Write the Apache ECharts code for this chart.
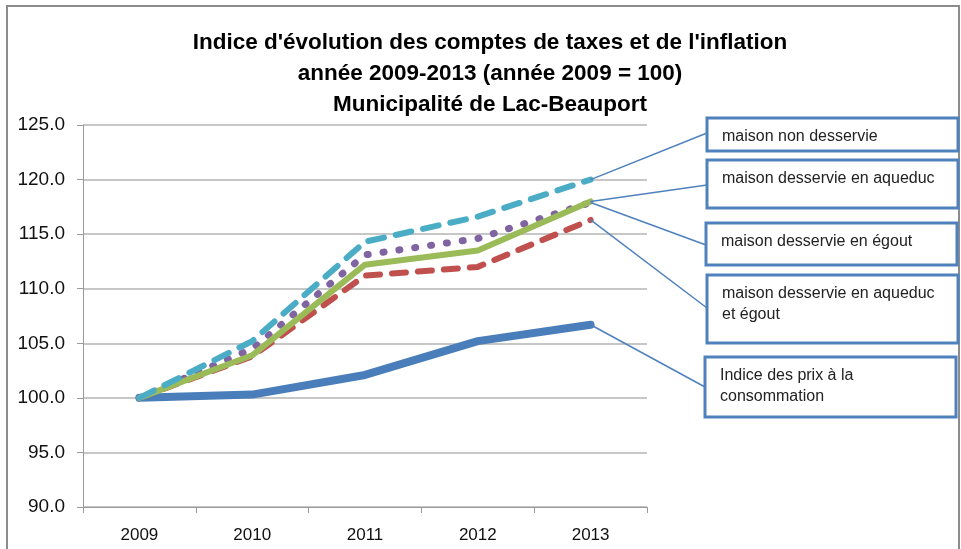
<!DOCTYPE html>
<html>
<head>
<meta charset="utf-8">
<script src="https://cdn.jsdelivr.net/npm/echarts@6/dist/echarts.min.js"></script>
<style>
	html, body { margin: 0; padding: 0; background: #fff; }
	#chart { width: 961px; height: 549px; }
</style>
</head>
<body>
<div id="chart"></div>
<script>
// categories
var years = ['2009', '2010', '2011', '2012', '2013'];

// séries (indice, 2009 = 100)
var nonDesservie = [100, 105.2, 114.3, 116.6, 120.0];
var aqueduc = [100, 104.5, 113.1, 114.6, 117.9];
var egout = [100, 103.8, 111.2, 112.0, 116.3];
var aqueducEgout = [100, 103.9, 112.2, 113.5, 118.0];
var ipc = [100, 100.3, 102.1, 105.2, 106.7];

// textes des encadrés
var boxLabels = [
	'maison non desservie',
	'maison desservie en aqueduc',
	'maison desservie en égout',
	'maison desservie en aqueduc\net égout',
	'Indice des prix à la\nconsommation'
];

var titleText = "Indice d'évolution des comptes de taxes et de l'inflation\nannée 2009-2013 (année 2009 = 100)\nMunicipalité de Lac-Beauport";

var font = '"Liberation Sans", Arial, sans-serif';
var boxColor = '#4f81bd';

var myChart = echarts.init(document.getElementById('chart'));

function lineSeries(name, data, color, width, dash, z) {
	return {
		name: name,
		type: 'line',
		data: data,
		showSymbol: false,
		symbol: 'none',
		z: z,
		lineStyle: {
			color: color,
			width: width,
			type: dash,
			cap: 'round',
			join: 'round'
		}
	};
}

var option = {
	animation: false,
	backgroundColor: '#fff',
	title: {
		text: titleText,
		left: 485,
		textAlign: 'center',
		top: 22,
		textStyle: {
			fontFamily: font,
			fontWeight: 'bold',
			fontSize: 22.5,
			lineHeight: 31,
			color: '#000'
		}
	},
	grid: {
		left: 83,
		right: 314,
		top: 125,
		bottom: 42
	},
	xAxis: {
		type: 'category',
		data: years,
		boundaryGap: true,
		axisLine: { lineStyle: { color: '#9a9a9a', width: 1 } },
		axisTick: { show: true, length: 6, lineStyle: { color: '#9a9a9a' } },
		axisLabel: {
			fontFamily: font,
			fontSize: 17,
			color: '#111',
			margin: 20
		}
	},
	yAxis: {
		type: 'value',
		min: 90,
		max: 125,
		interval: 5,
		axisLine: { show: true, lineStyle: { color: '#9a9a9a', width: 1 } },
		axisTick: { show: true, length: 6, lineStyle: { color: '#9a9a9a' } },
		splitLine: { lineStyle: { color: '#b4b4b4', width: 1.5 } },
		axisLabel: {
			fontFamily: font,
			fontSize: 19,
			color: '#111',
			margin: 18,
			formatter: function(v) { return v.toFixed(1); }
		}
	},
	series: [
		lineSeries('Indice des prix à la consommation', ipc, '#4a7ebb', 8, 'solid', 2),
		lineSeries('maison desservie en égout', egout, '#c0504d', 6, [14, 12], 3),
		lineSeries('maison desservie en aqueduc', aqueduc, '#8064a2', 7, [1, 15], 4),
		lineSeries('maison desservie en aqueduc et égout', aqueducEgout, '#9bbb59', 6, 'solid', 5),
		lineSeries('maison non desservie', nonDesservie, '#4bacc6', 6, [16, 12], 6)
	]
};

myChart.setOption(option);

// encadrés et traits de rappel
var boxes = [
	{ x: 707, y: 118, h: 33, ly: 133, data: nonDesservie },
	{ x: 707, y: 160, h: 48, ly: 185, data: aqueducEgout },
	{ x: 706, y: 223, h: 42, ly: 245, data: aqueduc },
	{ x: 707, y: 275, h: 68, ly: 308, data: egout },
	{ x: 705, y: 357, h: 60, ly: 387, data: ipc }
];

var graphics = [{
	type: 'rect',
	shape: { x: 7, y: 6, width: 952, height: 560 },
	style: { fill: 'none', stroke: '#8c8c8c', lineWidth: 2 },
	silent: true,
	z: 100
}];

boxes.forEach(function(b, i) {
	var last = b.data.length - 1;
	var pt = myChart.convertToPixel({ gridIndex: 0 }, [last, b.data[last]]);
	graphics.push({
		type: 'line',
		shape: { x1: b.x, y1: b.ly, x2: pt[0], y2: pt[1] },
		style: { stroke: boxColor, lineWidth: 1.5 },
		silent: true,
		z: 101
	});
	graphics.push({
		type: 'rect',
		shape: { x: b.x, y: b.y, width: 251, height: b.h },
		style: { fill: '#fff', stroke: boxColor, lineWidth: 3 },
		silent: true,
		z: 102
	});
	graphics.push({
		type: 'text',
		x: b.x + 15,
		y: b.y + 8,
		style: {
			text: boxLabels[i],
			fontFamily: font,
			fontSize: 16,
			lineHeight: 21,
			fill: '#222'
		},
		silent: true,
		z: 103
	});
});

myChart.setOption({ graphic: graphics });
</script>
</body>
</html>
